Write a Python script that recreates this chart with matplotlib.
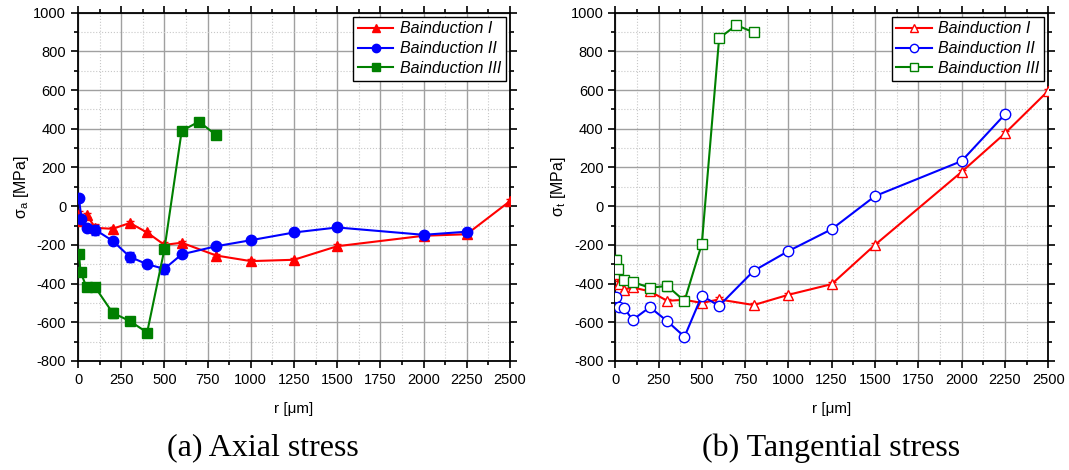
import numpy as np
import matplotlib
matplotlib.use("Agg")
from matplotlib import pyplot as plt
from matplotlib.ticker import MultipleLocator
from matplotlib.lines import Line2D

plt.rcParams['font.family'] = ['Liberation Sans', 'DejaVu Sans']
plt.rcParams['axes.unicode_minus'] = False

# radial positions [um]
r_1 = [5, 20, 50, 100, 200, 300, 400, 500, 600, 800, 1000, 1250, 1500, 2000, 2250, 2500]
r_2 = [5, 20, 50, 100, 200, 300, 400, 500, 600, 800, 1000, 1250, 1500, 2000, 2250]
r_3 = [5, 15, 50, 100, 200, 300, 400, 500, 600, 700, 800]

# axial stress [MPa]
sa_1 = [-38, -77, -46, -112, -117, -87, -136, -200, -189, -255, -284, -277, -207, -153, -145, 26]
sa_2 = [42, -65, -115, -122, -179, -262, -300, -324, -249, -207, -176, -136, -110, -148, -132]
sa_3 = [-248, -342, -420, -420, -551, -594, -653, -223, 389, 437, 367]
sa_err_1 = [15, 20, 10, 20, 10, 10, 10, 15, 10, 10, 10, 10, 10, 10, 10, 10]
sa_err_2 = [15, 15, 10, 25, 15, 25, 10, 25, 10, 10, 10, 10, 10, 10, 10]
sa_err_3 = [10, 10, 10, 15, 25, 15, 10, 10, 10, 10, 10]

# tangential stress [MPa]
st_1 = [-350, -400, -431, -420, -440, -489, -484, -500, -482, -511, -458, -403, -200, 177, 376, 596]
st_2 = [-472, -520, -524, -588, -522, -594, -675, -463, -515, -334, -232, -119, 52, 233, 474]
st_3 = [-280, -325, -384, -391, -422, -412, -490, -196, 868, 936, 898]
st_err_1 = [15, 15, 10, 10, 15, 10, 10, 10, 10, 10, 10, 10, 10, 10, 10, 10]
st_err_2 = [20, 15, 10, 10, 20, 10, 10, 10, 10, 10, 10, 10, 10, 10, 10]
st_err_3 = [30, 20, 10, 15, 10, 25, 10, 10, 10, 10, 10]

labels = ['Bainduction I', 'Bainduction II', 'Bainduction III']
colors = ['#ff0000', '#0000ff', '#008000']
markers = ['^', 'o', 's']


def draw(ax, data, filled, ylabel):
    handles = []
    for (r, s, e), lab, c, m in zip(data, labels, colors, markers):
        face = c if filled else 'white'
        ax.errorbar(r, s, yerr=e, color=c, marker=m, ms=7.5, lw=1.5,
                    mfc=face, mec=c, mew=1.0,
                    elinewidth=1.0, capsize=3, capthick=1.0, zorder=3)
        handles.append(Line2D([], [], color=c, marker=m, ms=6, lw=1.5,
                              mfc=face, mec=c, mew=1.0, label=lab))
    ax.set_xlim(0, 2500)
    ax.set_ylim(-800, 1000)
    ax.xaxis.set_major_locator(MultipleLocator(250))
    ax.xaxis.set_minor_locator(MultipleLocator(125))
    ax.yaxis.set_major_locator(MultipleLocator(200))
    ax.yaxis.set_minor_locator(MultipleLocator(100))
    ax.grid(which='major', color='#a0a0a0', lw=1.0, ls='-', zorder=0)
    ax.grid(which='minor', color='#c8c8c8', lw=0.8, ls=':', zorder=0)
    ax.set_axisbelow(True)
    ax.tick_params(which='both', direction='out', top=True, right=True, labeltop=False,
                   labelright=False, labelsize=10.5, width=1.2)
    ax.tick_params(which='major', length=5)
    ax.tick_params(which='minor', length=3)
    for sp in ax.spines.values():
        sp.set_linewidth(1.3)
    ax.set_xlabel('r [\u03bcm]', fontsize=11, labelpad=11)
    ax.set_ylabel(ylabel, fontsize=11.5, labelpad=2)
    leg = ax.legend(handles=handles, loc='upper right',
                    prop={'style': 'italic', 'size': 11.5},
                    fancybox=False, framealpha=1, edgecolor='black', borderpad=0.3,
                    handlelength=2.2, handletextpad=0.4, labelspacing=0.3,
                    borderaxespad=0.25)
    leg.get_frame().set_linewidth(1.0)


fig = plt.figure(figsize=(10.69, 4.70), dpi=100)
ax1 = fig.add_axes([0.073, 0.232, 0.404, 0.741])
ax2 = fig.add_axes([0.5755, 0.232, 0.405, 0.741])

draw(ax1, [(r_1, sa_1, sa_err_1), (r_2, sa_2, sa_err_2), (r_3, sa_3, sa_err_3)],
     True, r'$\mathregular{\sigma_a}$ [MPa]')
draw(ax2, [(r_1, st_1, st_err_1), (r_2, st_2, st_err_2), (r_3, st_3, st_err_3)],
     False, r'$\mathregular{\sigma_t}$ [MPa]')

# panel captions
fig.text(0.2455, 0.047, '(a) Axial stress', ha='center', va='center',
         fontsize=23, family='Liberation Serif')
fig.text(0.7775, 0.047, '(b) Tangential stress', ha='center', va='center',
         fontsize=23, family='Liberation Serif')

fig.savefig('out.png', dpi=100)
